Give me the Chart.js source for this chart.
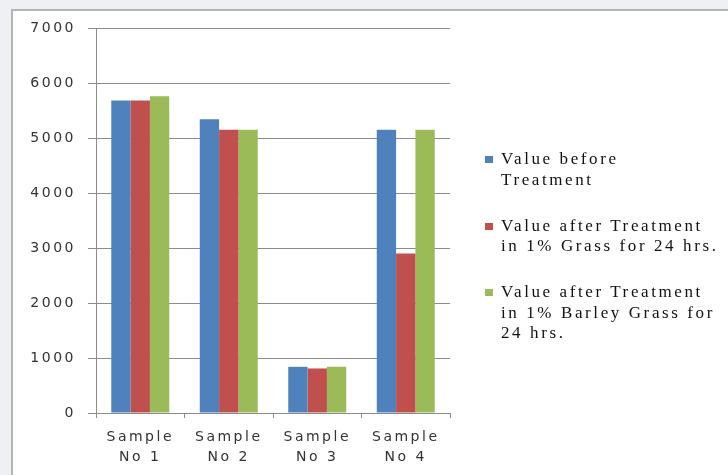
<!DOCTYPE html>
<html lang="en">

<head>
  <meta charset="UTF-8">
  <title>Value before and after treatment</title>
  <script src="https://cdn.jsdelivr.net/npm/chart.js"></script>
  <style>
    html, body {
      margin: 0;
      padding: 0;
      background: #eef0f3;
    }

    #wrap {
      position: relative;
      width: 728px;
      height: 475px;
      overflow: hidden;
    }

    /* white frame of the pasted chart, only top and left edges visible */
    #frame {
      position: absolute;
      left: 11px;
      top: 9px;
      width: 740px;
      height: 480px;
      background: #fff;
      border-left: 2px solid #b5b5b5;
      border-top: 2px solid #b5b5b5;
    }

    canvas {
      position: absolute;
      left: 0;
      top: 0;
    }

    #legend {
      position: absolute;
      left: 485px;
      top: 149px;
      font-family: "Liberation Serif", "Times New Roman", serif;
      font-size: 17px;
      letter-spacing: 2.6px;
      line-height: 20.5px;
      color: #111;
    }

    .item {
      position: relative;
      padding-left: 16px;
      margin-bottom: 25.5px;
      white-space: nowrap;
    }

    .box {
      position: absolute;
      left: 0;
      top: 7px;
      width: 8px;
      height: 7px;
    }
  </style>
</head>

<body>
  <div id="wrap">
    <div id="frame"></div>
    <canvas id="barChart" width="728" height="475"></canvas>
    <div id="legend"></div>
  </div>

  <script>
    const categories = [
      ['Sample', 'No 1'],
      ['Sample', 'No 2'],
      ['Sample', 'No 3'],
      ['Sample', 'No 4']
    ];

    const seriesLabels = [
      ['Value before', 'Treatment'],
      ['Value after Treatment', 'in 1% Grass for 24 hrs.'],
      ['Value after Treatment', 'in 1% Barley Grass for', '24 hrs.']
    ];

    const beforeTreatment = [5680, 5340, 840, 5150];
    const afterGrass = [5680, 5150, 810, 2900];
    const afterBarley = [5760, 5150, 840, 5150];

    const yTicks = [0, 1000, 2000, 3000, 4000, 5000, 6000, 7000];

    const colors = ['#4f81bd', '#c0504d', '#9bbb59'];

    const axisGray = '#8c8c8c';
    const textGray = '#333333';

    // the source image is stretched sideways, so space the letters out a bit
    const spacing = {
      id: 'spacing',
      beforeUpdate(chart) { chart.ctx.letterSpacing = '2.5px'; },
      beforeDraw(chart) { chart.ctx.letterSpacing = '2.5px'; }
    };

    const datasets = [beforeTreatment, afterGrass, afterBarley].map((vals, i) => ({
      label: seriesLabels[i].join(' '),
      data: vals,
      backgroundColor: colors[i],
      borderWidth: 0,
      categoryPercentage: 0.655,
      barPercentage: 1.0
    }));

    const ctx = document.getElementById('barChart').getContext('2d');

    const chart = new Chart(ctx, {
      type: 'bar',
      data: {
        labels: categories,
        datasets: datasets
      },
      plugins: [spacing],
      options: {
        responsive: false,
        animation: false,
        devicePixelRatio: 1,
        layout: {
          padding: { left: 0, top: 28, right: 278, bottom: 0 }
        },
        plugins: {
          legend: { display: false },
          tooltip: { enabled: false },
          title: { display: false }
        },
        scales: {
          x: {
            grid: {
              offset: true,
              drawOnChartArea: false,
              drawTicks: true,
              tickLength: 5,
              color: axisGray
            },
            border: { color: axisGray, width: 1 },
            ticks: {
              color: textGray,
              padding: 9,
              maxRotation: 0,
              font: { family: 'DejaVu Sans', size: 14, lineHeight: 1.45 }
            },
            afterFit(scale) { scale.height = 62; }
          },
          y: {
            min: 0,
            max: 7000,
            afterBuildTicks(scale) {
              scale.ticks = yTicks.map(v => ({ value: v }));
            },
            grid: {
              color: axisGray,
              tickLength: 8,
              drawTicks: true
            },
            border: { color: axisGray, width: 1 },
            ticks: {
              color: textGray,
              padding: 12,
              font: { family: 'DejaVu Sans', size: 14 },
              callback: v => String(v)
            },
            afterFit(scale) { scale.width = 96; }
          }
        }
      }
    });

    // html legend built from the series labels
    const legend = document.getElementById('legend');
    seriesLabels.forEach((lines, i) => {
      const item = document.createElement('div');
      item.className = 'item';
      const box = document.createElement('span');
      box.className = 'box';
      box.style.background = colors[i];
      item.appendChild(box);
      lines.forEach((line, j) => {
        if (j > 0) item.appendChild(document.createElement('br'));
        item.appendChild(document.createTextNode(line));
      });
      legend.appendChild(item);
    });
  </script>

</body>

</html>
